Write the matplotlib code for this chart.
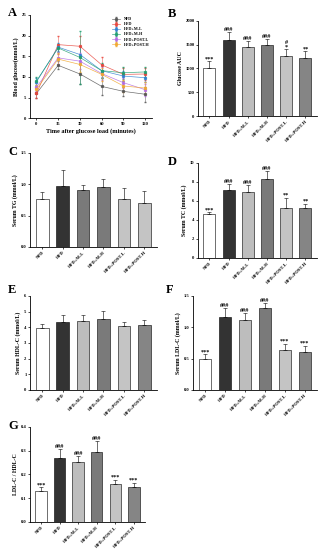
import matplotlib
matplotlib.use("Agg")
import matplotlib.pyplot as plt
import numpy as np

plt.rcParams['font.family'] = ['Liberation Serif', 'DejaVu Serif']
plt.rcParams['font.weight'] = 'bold'
plt.rcParams['axes.linewidth'] = 0.6

groups = ["NFD", "HFD", "HFD+M-L", "HFD+M-H", "HFD+POST-L", "HFD+POST-H"]
bar_colors = ["white", "#333333", "#bdbdbd", "#7a7a7a", "#c4c4c4", "#858585"]
tg_colors = ["white", "#333333", "#7a7a7a", "#7a7a7a", "#c4c4c4", "#c4c4c4"]

# panel A - glucose tolerance
times = [0, 15, 30, 60, 90, 120]
line_colors = ["#555555", "#e8453c", "#2f80d0", "#1f9e6e", "#b36ae2", "#f0a830"]
glu_nfd = [6.0, 12.8, 10.7, 7.7, 6.5, 5.8]
glu_hfd = [6.0, 17.8, 17.4, 12.9, 10.6, 10.7]
glu_ml = [8.8, 17.2, 15.4, 11.5, 10.2, 9.8]
glu_mh = [9.0, 17.0, 14.7, 11.5, 11.0, 11.2]
glu_pl = [7.5, 14.6, 13.8, 10.8, 8.6, 6.9]
glu_ph = [7.0, 14.3, 13.0, 10.6, 7.8, 7.3]
glu_err_nfd = [1.2, 1.0, 2.5, 2.0, 1.0, 1.8]
glu_err_hfd = [1.2, 2.2, 2.5, 1.8, 1.5, 1.5]
glu_err_ml = [1.0, 1.0, 2.0, 1.5, 1.2, 1.0]
glu_err_mh = [1.0, 1.0, 6.5, 1.8, 1.5, 1.2]
glu_err_pl = [1.0, 1.5, 2.0, 1.5, 1.2, 1.5]
glu_err_ph = [1.0, 1.5, 1.8, 1.5, 1.5, 1.5]

# bar panels
auc = [1000, 1590, 1450, 1500, 1270, 1230]
auc_err = [150, 170, 120, 130, 130, 130]
auc_ann = ["***", "###", "###", "###", "#\n*", "**"]
tg = [0.76, 0.98, 0.91, 0.96, 0.77, 0.70]
tg_err = [0.12, 0.25, 0.08, 0.12, 0.17, 0.20]
tc = [4.6, 7.1, 6.9, 8.3, 5.3, 5.3]
tc_err = [0.2, 0.7, 0.8, 0.8, 1.0, 0.4]
tc_ann = ["***", "###", "###", "###", "**", "**"]
hdl = [3.98, 4.35, 4.38, 4.5, 4.05, 4.12]
hdl_err = [0.25, 0.45, 0.38, 0.55, 0.30, 0.35]
ldl = [0.50, 1.16, 1.11, 1.31, 0.64, 0.60]
ldl_err = [0.07, 0.15, 0.12, 0.08, 0.10, 0.10]
ratio = [0.130, 0.268, 0.254, 0.295, 0.158, 0.145]
ratio_err = [0.015, 0.040, 0.025, 0.045, 0.020, 0.020]
sig_ann = ["***", "###", "###", "###", "***", "***"]

fig = plt.figure(figsize=(3.25, 5.5), dpi=100)
fs = 3.3


def style(ax):
    ax.spines['top'].set_visible(False)
    ax.spines['right'].set_visible(False)
    ax.tick_params(labelsize=fs, length=1.5, width=0.5, pad=1)


def bars(rect, vals, errs, ylim, yticks, ylabel, colors, ann=None, ann_fs=4.5):
    ax = fig.add_axes(rect)
    x = np.arange(len(vals))
    ax.bar(x, vals, width=0.62, color=colors, edgecolor="black", linewidth=0.4)
    ax.errorbar(x, vals, yerr=[np.zeros(len(errs)), errs], fmt='none',
                ecolor="black", elinewidth=0.4, capsize=1.5, capthick=0.4)
    ax.set_xlim(-0.6, len(vals) - 0.4)
    ax.set_ylim(*ylim)
    ax.set_yticks(yticks)
    ax.set_xticks(x)
    ax.set_xticklabels(groups, rotation=45, ha='right', rotation_mode='anchor')
    ax.set_ylabel(ylabel, fontsize=4.2, fontweight='bold', labelpad=2)
    style(ax)
    if ann:
        for xi, v, e, a in zip(x, vals, errs, ann):
            ax.text(xi, v + e, a, ha='center', va='bottom', fontsize=ann_fs,
                    linespacing=0.8)
    return ax


# A
axA = fig.add_axes([0.092, 0.785, 0.375, 0.188])
series = [glu_nfd, glu_hfd, glu_ml, glu_mh, glu_pl, glu_ph]
errs = [glu_err_nfd, glu_err_hfd, glu_err_ml, glu_err_mh, glu_err_pl, glu_err_ph]
tpos = np.arange(len(times))
for s, e, c, g in zip(series, errs, line_colors, groups):
    axA.errorbar(tpos, s, yerr=e, color=c, marker='s', markersize=1.3,
                 linewidth=0.5, elinewidth=0.4, capsize=0.8, label=g, alpha=0.85)
axA.set_ylim(0, 25)
axA.set_yticks([0, 5, 10, 15, 20, 25])
axA.set_xlim(-0.3, 5.3)
axA.set_xticks(tpos)
axA.set_xticklabels([str(t) for t in times])
axA.set_ylabel("Blood glucose(mmol/L)", fontsize=4.2, fontweight='bold', labelpad=2)
axA.set_xlabel("Time after glucose load (minutes)", fontsize=4.5, fontweight='bold', labelpad=1.5)
style(axA)
axA.legend(fontsize=3, frameon=False, loc='upper right', handlelength=2,
           labelspacing=0.25, borderaxespad=0.2)

# B-G
bars([0.609, 0.789, 0.366, 0.173], auc, auc_err, (0, 2000), [0, 500, 1000, 1500, 2000],
     "Glucose AUC", bar_colors, auc_ann)
bars([0.092, 0.551, 0.39, 0.171], tg, tg_err, (0, 1.5), [0.0, 0.5, 1.0, 1.5],
     "Serum TG (mmol/L)", tg_colors)
bars([0.609, 0.531, 0.366, 0.173], tc, tc_err, (0, 10), [0, 2, 4, 6, 8, 10],
     "Serum TC (mmol/L)", bar_colors, tc_ann)
bars([0.092, 0.291, 0.39, 0.171], hdl, hdl_err, (0, 6), [0, 1, 2, 3, 4, 5, 6],
     "Serum HDL-C (mmol/L)", bar_colors)
bars([0.594, 0.291, 0.381, 0.171], ldl, ldl_err, (0, 1.5), [0.0, 0.5, 1.0, 1.5],
     "Serum LDL-C (mmol/L)", bar_colors, sig_ann)
bars([0.092, 0.051, 0.354, 0.173], ratio, ratio_err, (0, 0.4), [0.0, 0.1, 0.2, 0.3, 0.4],
     "LDL-C / HDL-C", bar_colors, sig_ann)

for lab, x, y in [("A", 8, 13), ("B", 168, 14), ("C", 8, 152), ("D", 168, 162),
                  ("E", 8, 290), ("F", 166, 290), ("G", 8, 426)]:
    fig.text(x / 325, 1 - y / 550, lab, fontsize=9, fontweight='bold', va='center')

fig.savefig("out.png", dpi=100)
